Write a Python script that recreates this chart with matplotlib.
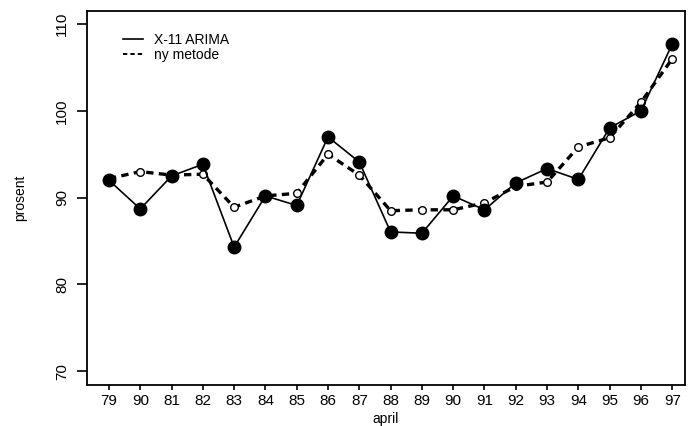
import matplotlib
matplotlib.use("Agg")
import matplotlib.pyplot as plt
from matplotlib.lines import Line2D

plt.rcParams['font.family'] = ['Liberation Sans', 'DejaVu Sans']

tick_labels = ["79", "90", "81", "82", "83", "84", "85", "86", "87", "88",
               "89", "90", "91", "92", "93", "94", "95", "96", "97"]
x11_arima = [92.0, 88.7, 92.5, 93.85, 84.3, 90.2, 89.1, 97.0, 94.1, 86.05,
             85.9, 90.2, 88.6, 91.7, 93.35, 92.1, 98.05, 100.0, 107.7]
ny_metode = [92.2, 93.0, 92.6, 92.7, 88.9, 90.2, 90.5, 95.0, 92.6, 88.5,
             88.6, 88.6, 89.4, 91.3, 91.8, 95.85, 96.9, 101.0, 106.0]

x = list(range(len(tick_labels)))

fig = plt.figure(figsize=(6.91, 4.26), dpi=100)
ax = fig.add_axes([0.126, 0.096, 0.865, 0.878])

ax.plot(x, ny_metode, color='black', lw=2.4, ls=(0, (2.2, 1.6)),
        marker='o', markersize=5.5, markerfacecolor='white',
        markeredgecolor='black', markeredgewidth=1.0, label='ny metode', zorder=3)
ax.plot(x, x11_arima, color='black', lw=1.2, ls='-',
        marker='o', markersize=9, markerfacecolor='black',
        markeredgecolor='black', label='X-11 ARIMA', zorder=4)

ax.set_xlim(-0.7, 18.4)
ax.set_ylim(68.4, 111.5)
ax.set_xticks(x)
ax.set_xticklabels(tick_labels, fontsize=11)
ax.set_yticks([70, 80, 90, 100, 110])
ax.set_yticklabels(["70", "80", "90", "100", "110"], fontsize=11,
                   rotation=90, va='center')
ax.tick_params(axis='y', length=7, width=1.2, direction='out', pad=6)
ax.tick_params(axis='x', length=3.5, width=1.2, direction='out', pad=3)
for s in ax.spines.values():
    s.set_linewidth(1.3)

ax.set_xlabel('april', fontsize=10, labelpad=3)
ax.set_ylabel('prosent', fontsize=10, labelpad=20)

handles = [Line2D([0], [0], color='black', lw=1.2),
           Line2D([0], [0], color='black', lw=1.4, ls=(0, (2.2, 1.6)))]
ax.legend(handles, ['X-11 ARIMA', 'ny metode'], loc='upper left',
          bbox_to_anchor=(0.04, 0.975), frameon=False, fontsize=10,
          handlelength=1.4, handletextpad=0.8, labelspacing=0.05,
          borderaxespad=0.5)

fig.savefig('out.png', dpi=100)
